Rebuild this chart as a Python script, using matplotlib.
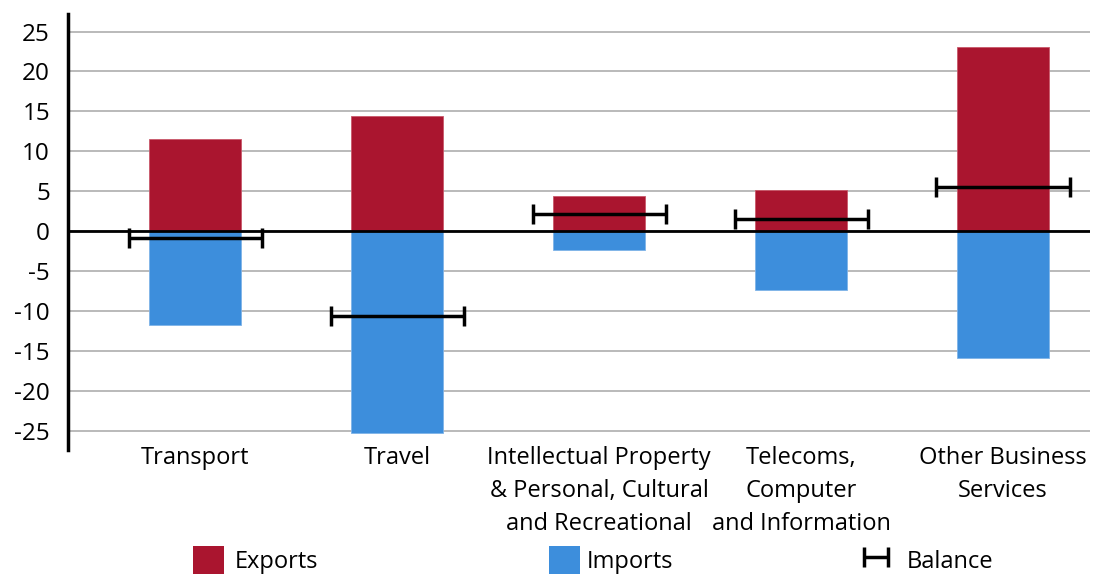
import matplotlib.pyplot as plt
import numpy as np
from matplotlib.patches import Patch

plt.rcParams['font.family'] = ['Open Sans', 'DejaVu Sans']
plt.rcParams['axes.unicode_minus'] = False

categories = ['Transport', 'Travel', 'Intellectual Property\n& Personal, Cultural\nand Recreational',
              'Telecoms,\nComputer\nand Information', 'Other Business\nServices']
exports = [11.6, 14.4, 4.4, 5.1, 23.1]
imports = [-11.8, -25.3, -2.4, -7.4, -15.9]
balance = [-0.9, -10.6, 2.2, 1.5, 5.5]

red = '#aa152f'
blue = '#3d8edc'
fs = 17

fig = plt.figure(figsize=(11.05, 5.74), dpi=100)
ax = fig.add_axes([68 / 1105, 1 - 450 / 574, (1090 - 68) / 1105, (450 - 14) / 574])

x = np.arange(len(categories))
ax.bar(x, exports, width=0.455, color=red, edgecolor='#c9586a', linewidth=0.6, zorder=2)
ax.bar(x, imports, width=0.455, color=blue, edgecolor='#7fb3e8', linewidth=0.6, zorder=2)
ax.axhline(0, color='black', lw=2, zorder=3)
eb = ax.errorbar(x, balance, xerr=0.33, fmt='none', ecolor='black', elinewidth=2.5,
                 capsize=7, capthick=2.5, zorder=4)

ax.set_xlim(-0.63, 4.43)
ax.set_ylim(-27.4, 27.2)
ax.set_yticks(np.arange(-25, 26, 5))
ax.set_xticks(x)
ax.set_xticklabels(categories, fontsize=fs, linespacing=1.5)
ax.tick_params(axis='y', length=0, pad=13, labelsize=fs + 0.5)
ax.tick_params(axis='x', length=0, pad=-3)
ax.grid(axis='y', color='#b4b4b4', lw=1.3, zorder=0)
ax.set_axisbelow(True)
for s in ['top', 'right', 'bottom']:
    ax.spines[s].set_visible(False)
ax.spines['left'].set_linewidth(2.5)
ax.spines['left'].set_color('black')

# legend entries spread across the bottom
entries = [(Patch(facecolor=red), 'Exports', 193, 1.3, 0.45),
           (Patch(facecolor=blue), 'Imports', 549, 1.3, 0.3),
           (eb, 'Balance', 856, 1.7, 0.45)]
for h, lab, px, hl, tp in entries:
    fig.legend([h], [lab], loc='center left', bbox_to_anchor=(px / 1105, 1 - 560 / 574),
               frameon=False, fontsize=fs, handlelength=hl, handleheight=1.4,
               handletextpad=tp, borderpad=0, borderaxespad=0)

fig.savefig('out.png', dpi=100)
